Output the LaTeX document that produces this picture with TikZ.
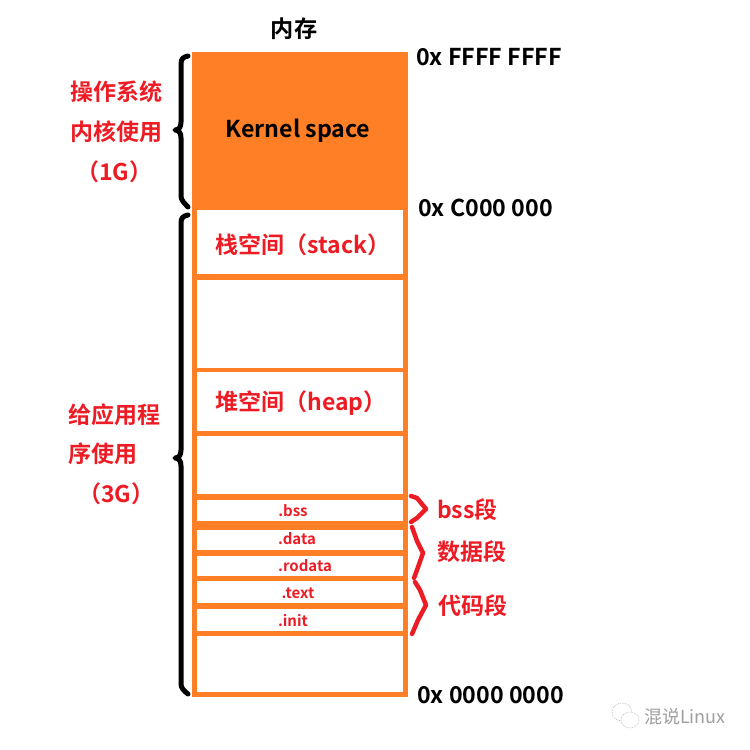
\documentclass[tikz,border=0pt]{standalone}
\usepackage{fontspec}
\setmainfont{Noto Sans CJK SC}[BoldFont={Noto Sans CJK SC Bold}]
\definecolor{mem}{RGB}{255,127,39}
\definecolor{lab}{RGB}{237,28,36}
\tikzset{
  cell/.style={fill=white,draw=none},
  blacktext/.style={font=\bfseries\fontsize{23.2}{27}\selectfont,text=black,inner sep=0pt},
  redtext/.style={font=\bfseries\fontsize{23}{27}\selectfont,text=lab,inner sep=0pt},
  smalltext/.style={font=\bfseries\fontsize{15}{18}\selectfont,text=lab,inner sep=0pt},
  bracket/.style={draw=black,line width=5pt,line cap=round,line join=round},
  redbracket/.style={draw=lab,line width=4.5pt,line cap=round,line join=round},
}
\begin{document}
\begin{tikzpicture}[x=1pt,y=-1pt]
\useasboundingbox (0,0) rectangle (750,750);
% memory column
\fill[mem] (192,52) rectangle (408,697);
\foreach \a/\b in {210/274,280/368,372/431,436/494,500/521,530/550,556/576,581/603,609/631,636/692}
  \fill[cell] (197,\a) rectangle (403,\b);
% braces
\draw[bracket] (188,56) .. controls (183,57) and (181,59) .. (181,64) -- (181,122) .. controls (181,127) and (179,130) .. (175,130) .. controls (179,130) and (181,133) .. (181,138) -- (181,196) .. controls (181,200) and (184,203) .. (188,207);
\draw[bracket] (188,215) .. controls (183,216) and (181,218) .. (181,223) -- (181,450) .. controls (181,455) and (179,458) .. (175,458) .. controls (179,458) and (181,461) .. (181,466) -- (181,684) .. controls (181,688) and (184,691) .. (188,694);
\draw[redbracket] (411,496) -- (417,498) -- (426,509) -- (417,518) -- (411,522);
\draw[redbracket] (412,527) -- (417,541) -- (423,553) -- (417,570) -- (414,578);
\draw[redbracket] (415,582) -- (420,590) -- (426,605) -- (418,620) -- (412,634);
% texts
\node[blacktext] (title) at (294,29) {内存};
\node[blacktext] (kernel) at (298,131) {Kernel space};
\node[redtext] (stack) at (303,245) {栈空间（stack）};
\node[redtext] (heap) at (301,403) {堆空间（heap）};
\node[smalltext] (bss) at (293,511) {.bss};
\node[smalltext] (data) at (297,539) {.data};
\node[smalltext] (rodata) at (305,566) {.rodata};
\node[smalltext] (text) at (298,593.5) {.text};
\node[smalltext] (init) at (293,621) {.init};
\node[redtext,anchor=west] (bsslab) at (437,510) {bss段};
\node[redtext,anchor=west] (datalab) at (437,552) {数据段};
\node[redtext,anchor=west] (codelab) at (438,606) {代码段};
\node[blacktext,anchor=west] (a1) at (416,57.5) {0x FFFF FFFF};
\node[blacktext,anchor=west] (a2) at (418,207.5) {0x C000 000};
\node[blacktext,anchor=west] (a3) at (417,695.5) {0x 0000 0000};
\node[redtext,anchor=west] (k1) at (70,92) {操作系统};
\node[redtext,anchor=west] (k2) at (70,132) {内核使用};
\node[redtext,anchor=west] (k3) at (76,172) {（1G）};
\node[redtext,anchor=west] (u1) at (68,415) {给应用程};
\node[redtext,anchor=west] (u2) at (68,454) {序使用};
\node[redtext,anchor=west] (u3) at (78,494) {（3G）};
% watermark
\draw[gray!55,line width=.7pt,densely dotted] (622,712) ellipse [x radius=10,y radius=9];
\draw[gray!55,line width=.7pt,densely dotted,fill=white] (630,720) ellipse [x radius=9,y radius=8];
\node[text=gray!75,font=\fontsize{18}{21}\selectfont,anchor=west,inner sep=0pt] (mark) at (644,717) {混说Linux};
\end{tikzpicture}
\end{document}
